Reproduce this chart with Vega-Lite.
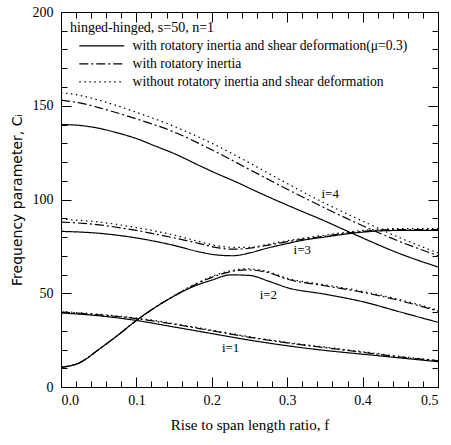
{
  "$schema": "https://vega.github.io/schema/vega-lite/v6.json",
  "width": 377,
  "height": 375,
  "autosize": "none",
  "padding": {"left": 61, "top": 12, "right": 13, "bottom": 58},
  "background": "white",
  "config": {
    "view": {"stroke": "black", "strokeWidth": 1},
    "font": "Liberation Serif"
  },
  "datasets": {
    "curves": [
      {"m": "a", "i": 1, "f": 0, "C": 39.5}, {"m": "a", "i": 1, "f": 0.05, "C": 38}, {"m": "a", "i": 1, "f": 0.1, "C": 35.5}, {"m": "a", "i": 1, "f": 0.15, "C": 32}, {"m": "a", "i": 1, "f": 0.2, "C": 28.5}, {"m": "a", "i": 1, "f": 0.25, "C": 25}, {"m": "a", "i": 1, "f": 0.3, "C": 22}, {"m": "a", "i": 1, "f": 0.35, "C": 19.5}, {"m": "a", "i": 1, "f": 0.4, "C": 17.5}, {"m": "a", "i": 1, "f": 0.45, "C": 15.5}, {"m": "a", "i": 1, "f": 0.5, "C": 13.5},
      {"m": "a", "i": 2, "f": 0, "C": 10.5}, {"m": "a", "i": 2, "f": 0.025, "C": 13}, {"m": "a", "i": 2, "f": 0.05, "C": 20}, {"m": "a", "i": 2, "f": 0.075, "C": 27.5}, {"m": "a", "i": 2, "f": 0.1, "C": 35.5}, {"m": "a", "i": 2, "f": 0.125, "C": 42.5}, {"m": "a", "i": 2, "f": 0.15, "C": 48.5}, {"m": "a", "i": 2, "f": 0.175, "C": 53.5}, {"m": "a", "i": 2, "f": 0.2, "C": 57}, {"m": "a", "i": 2, "f": 0.225, "C": 59.8}, {"m": "a", "i": 2, "f": 0.25, "C": 59.5}, {"m": "a", "i": 2, "f": 0.275, "C": 56.5}, {"m": "a", "i": 2, "f": 0.3, "C": 53}, {"m": "a", "i": 2, "f": 0.35, "C": 49.5}, {"m": "a", "i": 2, "f": 0.4, "C": 45.5}, {"m": "a", "i": 2, "f": 0.45, "C": 40}, {"m": "a", "i": 2, "f": 0.5, "C": 34.5},
      {"m": "a", "i": 3, "f": 0, "C": 83}, {"m": "a", "i": 3, "f": 0.05, "C": 82}, {"m": "a", "i": 3, "f": 0.1, "C": 79.5}, {"m": "a", "i": 3, "f": 0.15, "C": 75.5}, {"m": "a", "i": 3, "f": 0.184, "C": 72}, {"m": "a", "i": 3, "f": 0.205, "C": 70.5}, {"m": "a", "i": 3, "f": 0.228, "C": 70}, {"m": "a", "i": 3, "f": 0.25, "C": 71.5}, {"m": "a", "i": 3, "f": 0.273, "C": 74}, {"m": "a", "i": 3, "f": 0.3, "C": 76.5}, {"m": "a", "i": 3, "f": 0.317, "C": 78}, {"m": "a", "i": 3, "f": 0.35, "C": 80}, {"m": "a", "i": 3, "f": 0.386, "C": 82}, {"m": "a", "i": 3, "f": 0.42, "C": 83.2}, {"m": "a", "i": 3, "f": 0.45, "C": 83.5}, {"m": "a", "i": 3, "f": 0.5, "C": 83.5},
      {"m": "a", "i": 4, "f": 0, "C": 140}, {"m": "a", "i": 4, "f": 0.025, "C": 139.5}, {"m": "a", "i": 4, "f": 0.05, "C": 138}, {"m": "a", "i": 4, "f": 0.075, "C": 135.5}, {"m": "a", "i": 4, "f": 0.1, "C": 132.5}, {"m": "a", "i": 4, "f": 0.125, "C": 128.5}, {"m": "a", "i": 4, "f": 0.15, "C": 124.5}, {"m": "a", "i": 4, "f": 0.184, "C": 118}, {"m": "a", "i": 4, "f": 0.2, "C": 115}, {"m": "a", "i": 4, "f": 0.237, "C": 108.5}, {"m": "a", "i": 4, "f": 0.25, "C": 106}, {"m": "a", "i": 4, "f": 0.3, "C": 97}, {"m": "a", "i": 4, "f": 0.35, "C": 88.5}, {"m": "a", "i": 4, "f": 0.386, "C": 82}, {"m": "a", "i": 4, "f": 0.45, "C": 71}, {"m": "a", "i": 4, "f": 0.5, "C": 64},

      {"m": "b", "i": 1, "f": 0, "C": 40}, {"m": "b", "i": 1, "f": 0.05, "C": 38.5}, {"m": "b", "i": 1, "f": 0.1, "C": 36.5}, {"m": "b", "i": 1, "f": 0.15, "C": 33.5}, {"m": "b", "i": 1, "f": 0.2, "C": 30}, {"m": "b", "i": 1, "f": 0.25, "C": 26.5}, {"m": "b", "i": 1, "f": 0.3, "C": 23.5}, {"m": "b", "i": 1, "f": 0.35, "C": 21}, {"m": "b", "i": 1, "f": 0.4, "C": 18.5}, {"m": "b", "i": 1, "f": 0.45, "C": 16}, {"m": "b", "i": 1, "f": 0.5, "C": 14},
      {"m": "b", "i": 2, "f": 0, "C": 10.5}, {"m": "b", "i": 2, "f": 0.025, "C": 13}, {"m": "b", "i": 2, "f": 0.05, "C": 20}, {"m": "b", "i": 2, "f": 0.075, "C": 27.5}, {"m": "b", "i": 2, "f": 0.1, "C": 35.5}, {"m": "b", "i": 2, "f": 0.125, "C": 42.5}, {"m": "b", "i": 2, "f": 0.15, "C": 48.5}, {"m": "b", "i": 2, "f": 0.175, "C": 54}, {"m": "b", "i": 2, "f": 0.2, "C": 58.5}, {"m": "b", "i": 2, "f": 0.225, "C": 61.5}, {"m": "b", "i": 2, "f": 0.245, "C": 62.5}, {"m": "b", "i": 2, "f": 0.275, "C": 61}, {"m": "b", "i": 2, "f": 0.3, "C": 57.5}, {"m": "b", "i": 2, "f": 0.35, "C": 54}, {"m": "b", "i": 2, "f": 0.4, "C": 50.5}, {"m": "b", "i": 2, "f": 0.45, "C": 46}, {"m": "b", "i": 2, "f": 0.5, "C": 40.5},
      {"m": "b", "i": 3, "f": 0, "C": 88}, {"m": "b", "i": 3, "f": 0.05, "C": 86.5}, {"m": "b", "i": 3, "f": 0.1, "C": 83.5}, {"m": "b", "i": 3, "f": 0.15, "C": 79.5}, {"m": "b", "i": 3, "f": 0.184, "C": 76.5}, {"m": "b", "i": 3, "f": 0.205, "C": 74.5}, {"m": "b", "i": 3, "f": 0.228, "C": 73.5}, {"m": "b", "i": 3, "f": 0.25, "C": 74}, {"m": "b", "i": 3, "f": 0.273, "C": 75.5}, {"m": "b", "i": 3, "f": 0.3, "C": 77.5}, {"m": "b", "i": 3, "f": 0.35, "C": 80.5}, {"m": "b", "i": 3, "f": 0.4, "C": 83}, {"m": "b", "i": 3, "f": 0.45, "C": 84}, {"m": "b", "i": 3, "f": 0.5, "C": 84},
      {"m": "b", "i": 4, "f": 0, "C": 153}, {"m": "b", "i": 4, "f": 0.025, "C": 151.5}, {"m": "b", "i": 4, "f": 0.05, "C": 149}, {"m": "b", "i": 4, "f": 0.1, "C": 143}, {"m": "b", "i": 4, "f": 0.15, "C": 136}, {"m": "b", "i": 4, "f": 0.2, "C": 126.5}, {"m": "b", "i": 4, "f": 0.25, "C": 116}, {"m": "b", "i": 4, "f": 0.3, "C": 105.5}, {"m": "b", "i": 4, "f": 0.35, "C": 95.5}, {"m": "b", "i": 4, "f": 0.4, "C": 86}, {"m": "b", "i": 4, "f": 0.45, "C": 77.5}, {"m": "b", "i": 4, "f": 0.5, "C": 70},

      {"m": "c", "i": 1, "f": 0, "C": 40.3}, {"m": "c", "i": 1, "f": 0.05, "C": 38.8}, {"m": "c", "i": 1, "f": 0.1, "C": 36.8}, {"m": "c", "i": 1, "f": 0.15, "C": 33.8}, {"m": "c", "i": 1, "f": 0.2, "C": 30.3}, {"m": "c", "i": 1, "f": 0.25, "C": 26.8}, {"m": "c", "i": 1, "f": 0.3, "C": 23.8}, {"m": "c", "i": 1, "f": 0.35, "C": 21.3}, {"m": "c", "i": 1, "f": 0.4, "C": 18.8}, {"m": "c", "i": 1, "f": 0.45, "C": 16.3}, {"m": "c", "i": 1, "f": 0.5, "C": 14.2},
      {"m": "c", "i": 2, "f": 0, "C": 10.5}, {"m": "c", "i": 2, "f": 0.025, "C": 13}, {"m": "c", "i": 2, "f": 0.05, "C": 20}, {"m": "c", "i": 2, "f": 0.075, "C": 27.5}, {"m": "c", "i": 2, "f": 0.1, "C": 35.5}, {"m": "c", "i": 2, "f": 0.125, "C": 42.5}, {"m": "c", "i": 2, "f": 0.15, "C": 48.7}, {"m": "c", "i": 2, "f": 0.175, "C": 54.3}, {"m": "c", "i": 2, "f": 0.2, "C": 59}, {"m": "c", "i": 2, "f": 0.225, "C": 62}, {"m": "c", "i": 2, "f": 0.245, "C": 63}, {"m": "c", "i": 2, "f": 0.275, "C": 61.5}, {"m": "c", "i": 2, "f": 0.3, "C": 58}, {"m": "c", "i": 2, "f": 0.35, "C": 54.5}, {"m": "c", "i": 2, "f": 0.4, "C": 51}, {"m": "c", "i": 2, "f": 0.45, "C": 46.5}, {"m": "c", "i": 2, "f": 0.5, "C": 41},
      {"m": "c", "i": 3, "f": 0, "C": 89.5}, {"m": "c", "i": 3, "f": 0.05, "C": 88}, {"m": "c", "i": 3, "f": 0.1, "C": 85}, {"m": "c", "i": 3, "f": 0.15, "C": 81}, {"m": "c", "i": 3, "f": 0.184, "C": 77.5}, {"m": "c", "i": 3, "f": 0.205, "C": 75.5}, {"m": "c", "i": 3, "f": 0.228, "C": 74.5}, {"m": "c", "i": 3, "f": 0.25, "C": 74.5}, {"m": "c", "i": 3, "f": 0.273, "C": 76}, {"m": "c", "i": 3, "f": 0.3, "C": 78}, {"m": "c", "i": 3, "f": 0.35, "C": 81}, {"m": "c", "i": 3, "f": 0.4, "C": 83.5}, {"m": "c", "i": 3, "f": 0.45, "C": 84.5}, {"m": "c", "i": 3, "f": 0.5, "C": 84.5},
      {"m": "c", "i": 4, "f": 0, "C": 157}, {"m": "c", "i": 4, "f": 0.025, "C": 155.5}, {"m": "c", "i": 4, "f": 0.05, "C": 153}, {"m": "c", "i": 4, "f": 0.1, "C": 146.5}, {"m": "c", "i": 4, "f": 0.15, "C": 139}, {"m": "c", "i": 4, "f": 0.2, "C": 130}, {"m": "c", "i": 4, "f": 0.25, "C": 119.5}, {"m": "c", "i": 4, "f": 0.3, "C": 108.5}, {"m": "c", "i": 4, "f": 0.35, "C": 98}, {"m": "c", "i": 4, "f": 0.4, "C": 88.5}, {"m": "c", "i": 4, "f": 0.45, "C": 79.5}, {"m": "c", "i": 4, "f": 0.5, "C": 71.5}
    ]
  },
  "layer": [
    {
      "data": {"name": "curves"},
      "mark": {"type": "line", "interpolate": "monotone", "color": "black", "strokeWidth": 1.2},
      "encoding": {
        "x": {
          "field": "f", "type": "quantitative",
          "scale": {"domain": [0, 0.5], "nice": false, "zero": false},
          "axis": {
            "orient": "bottom",
            "title": "Rise to span length ratio, f",
            "titleFont": "Liberation Serif", "titleFontSize": 15, "titleFontWeight": "normal", "titleColor": "black", "titlePadding": 6,
            "values": [0, 0.02, 0.04, 0.06, 0.08, 0.1, 0.12, 0.14, 0.16, 0.18, 0.2, 0.22, 0.24, 0.26, 0.28, 0.3, 0.32, 0.34, 0.36, 0.38, 0.4, 0.42, 0.44, 0.46, 0.48, 0.5],
            "labelExpr": "abs(datum.value*10 - round(datum.value*10)) < 0.001 ? format(datum.value, '.1f') : ''",
            "labelOverlap": false,
            "labelFont": "Liberation Serif", "labelFontSize": 14, "labelColor": "black", "labelPadding": 16,
            "grid": false, "domain": false, "tickColor": "black",
            "tickSize": {"condition": {"test": "abs(datum.value*10 - round(datum.value*10)) < 0.001", "value": -10}, "value": -6}
          }
        },
        "y": {
          "field": "C", "type": "quantitative",
          "scale": {"domain": [0, 200], "nice": false},
          "axis": {
            "orient": "left",
            "title": "Frequency parameter, Cᵢ",
            "titleFont": "DejaVu Sans", "titleFontSize": 14, "titleFontWeight": "normal", "titleColor": "black", "titlePadding": 8,
            "values": [0, 10, 20, 30, 40, 50, 60, 70, 80, 90, 100, 110, 120, 130, 140, 150, 160, 170, 180, 190, 200],
            "labelExpr": "datum.value % 50 == 0 ? datum.label : ''",
            "labelOverlap": false,
            "labelFont": "Liberation Serif", "labelFontSize": 14, "labelColor": "black", "labelPadding": 18,
            "grid": false, "domain": false, "tickColor": "black",
            "tickSize": {"condition": {"test": "datum.value % 50 == 0", "value": -10}, "value": -6}
          }
        },
        "detail": {"field": "i", "type": "nominal"},
        "strokeDash": {
          "field": "m", "type": "nominal",
          "scale": {"domain": ["a", "b", "c"], "range": [[1, 0], [9, 3, 2, 3], [1.5, 3.5]]},
          "legend": {
            "orient": "top-left",
            "offset": 9,
            "padding": 0,
            "title": "hinged-hinged, s=50, n=1",
            "titleFont": "Liberation Serif", "titleFontSize": 14, "titleFontWeight": "normal", "titleColor": "black", "titlePadding": 4,
            "labelExpr": "datum.label == 'a' ? 'with rotatory inertia and shear deformation(μ=0.3)' : datum.label == 'b' ? 'with rotatory inertia' : 'without rotatory inertia and shear deformation'",
            "labelFont": "Liberation Serif", "labelFontSize": 13.6, "labelColor": "black", "labelOffset": 24, "labelLimit": 400,
            "symbolType": "M-4.5,0H4.5", "symbolSize": 100, "symbolOffset": 25, "symbolStrokeColor": "black", "symbolStrokeWidth": 1.2,
            "rowPadding": 3
          }
        }
      }
    },
    {
      "data": {"name": "curves"},
      "mark": {"type": "point", "opacity": 0},
      "encoding": {
        "x": {
          "field": "f", "type": "quantitative",
          "axis": {
            "orient": "top", "title": "", "labelExpr": "''", "grid": false, "domain": false,
            "values": [0, 0.02, 0.04, 0.06, 0.08, 0.1, 0.12, 0.14, 0.16, 0.18, 0.2, 0.22, 0.24, 0.26, 0.28, 0.3, 0.32, 0.34, 0.36, 0.38, 0.4, 0.42, 0.44, 0.46, 0.48, 0.5],
            "tickColor": "black",
            "tickSize": {"condition": {"test": "abs(datum.value*10 - round(datum.value*10)) < 0.001", "value": -10}, "value": -6}
          }
        },
        "y": {
          "field": "C", "type": "quantitative",
          "axis": {
            "orient": "right", "title": "", "labelExpr": "''", "grid": false, "domain": false,
            "values": [0, 10, 20, 30, 40, 50, 60, 70, 80, 90, 100, 110, 120, 130, 140, 150, 160, 170, 180, 190, 200],
            "tickColor": "black",
            "tickSize": {"condition": {"test": "datum.value % 50 == 0", "value": -10}, "value": -6}
          }
        }
      }
    },
    {
      "data": {"values": [
        {"t": "i=1", "f": 0.225, "C": 21},
        {"t": "i=2", "f": 0.275, "C": 49},
        {"t": "i=3", "f": 0.32, "C": 73},
        {"t": "i=4", "f": 0.357, "C": 103}
      ]},
      "mark": {"type": "text", "font": "Liberation Serif", "fontSize": 13, "color": "black", "align": "center", "baseline": "middle"},
      "encoding": {
        "x": {"field": "f", "type": "quantitative", "axis": null},
        "y": {"field": "C", "type": "quantitative", "axis": null},
        "text": {"field": "t"}
      }
    }
  ],
  "resolve": {"axis": {"x": "independent", "y": "independent"}}
}
